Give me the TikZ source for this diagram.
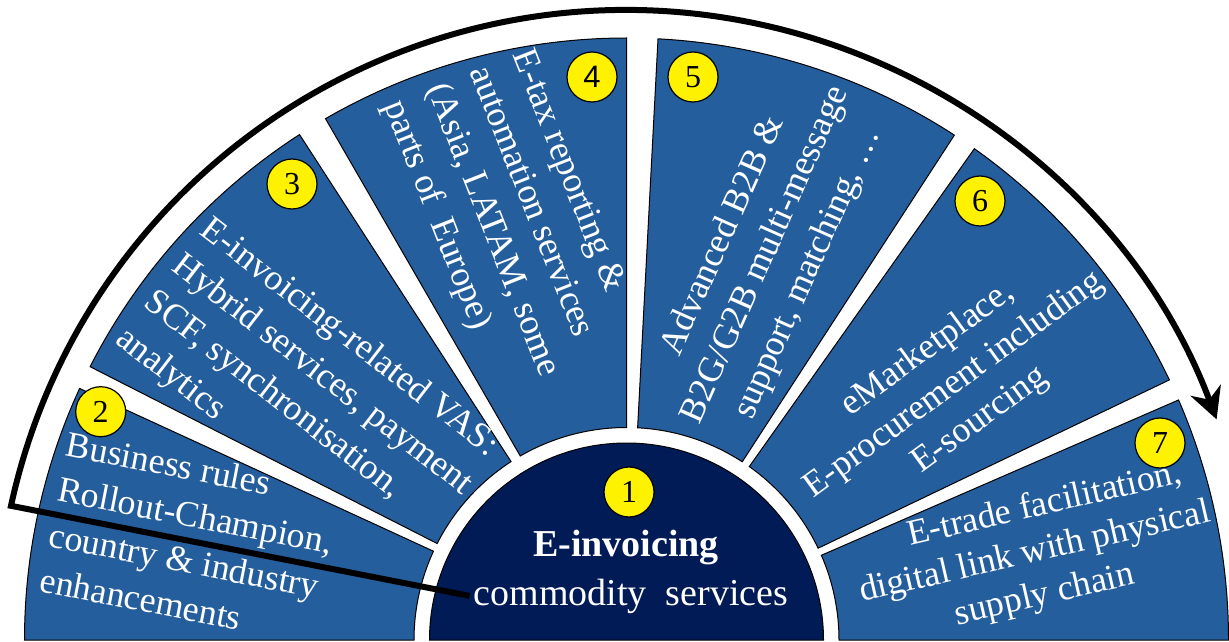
\documentclass[tikz,border=0pt]{standalone}
\usepackage{fontspec}
\setmainfont{Liberation Serif}
\newfontfamily\numsans{Liberation Sans}
\usetikzlibrary{arrows.meta,calc}
\definecolor{wedgeblue}{RGB}{36,94,157}
\definecolor{discnavy}{RGB}{1,27,87}
\tikzset{
  wedgeshape/.style={fill=wedgeblue, draw=black, line width=1pt},
  discshape/.style={fill=discnavy, draw=black, line width=1pt},
  numdot/.style={circle, fill=yellow, draw=black, line width=1.2pt, minimum size=50pt, inner sep=0pt, font=\fontsize{32}{32}\selectfont},
  wtext/.style={text=white, font=\fontsize{36}{46}\selectfont, inner sep=0pt},
  wtextb/.style={text=white, font=\fontsize{36}{44}\selectfont, inner sep=0pt},
  ctext/.style={text=white, inner sep=0pt, anchor=base},
  flow/.style={line width=6pt, -{Stealth[length=31pt,width=32pt,inset=10pt]}},
}
\newcommand\mywedge[2]{%
  \draw[wedgeshape] ([shift={(O)}]#1:212.5pt) -- ([shift={(O)}]#1:602pt)
    arc[start angle=#1, end angle=#2, radius=602pt]
    -- ([shift={(O)}]#2:212.5pt)
    arc[start angle=#2, end angle=#1, radius=212.5pt] -- cycle;}
\begin{document}
\begin{tikzpicture}[x=1pt,y=1pt]
\useasboundingbox (0,0) rectangle (1229,641);
\coordinate (O) at (626.5,1);
% wedges
\mywedge{155.3}{180}
\mywedge{122.9}{153}
\mywedge{90}{120}
\mywedge{57}{87}
\mywedge{25.6}{54.7}
\mywedge{0}{23.5}
% central disc
\draw[discshape] ([shift={(O)}]0:197pt) arc[start angle=0, end angle=180, radius=197pt] -- cycle;
% number dots
\node[numdot] (n1) at (629,149) {1};
\node[numdot] (n2) at (100.7,229.3) {2};
\node[numdot] (n3) at (292,457) {3};
\node[numdot, font=\numsans\fontsize{31}{31}\selectfont] (n4) at (592,564) {4};
\node[numdot] (n5) at (693,564) {5};
\node[numdot] (n6) at (980,440) {6};
\node[numdot] (n7) at (1160,198) {7};
% wedge texts
\node[wtext, align=left, rotate=-11] (t2) at (191,103)
  {Business rules\\Rollout-Champion,\\country \& industry\\enhancements};
\node[wtext, align=left, rotate=-37.7] (t3) at (307.6,247.3)
  {E-invoicing-related VAS:\\Hybrid services, payment\\SCF, synchronisation,\\analytics};
\node[wtext, align=left, rotate=-68.5] (t4) at (513,419)
  {E-tax reporting \&\\automation services\\(Asia, LATAM, some\\parts of\ \ Europe)};
\node[wtext, align=center, rotate=66] (t5) at (766,386)
  {Advanced B2B \&\\B2G/G2B multi-message\\support, matching, …};
\node[wtextb, align=center, rotate=36] (t6) at (954,256)
  {eMarketplace,\\E-procurement including\\E-sourcing};
\node[wtextb, align=center, rotate=13] (t7) at (1035,88)
  {\hspace*{40pt}E-trade facilitation,\\digital link with physical\\supply chain};
% central texts
\node[ctext, font=\bfseries\fontsize{38}{38}\selectfont] (c1) at (626,84.3) {E-invoicing};
\node[ctext, font=\fontsize{38}{38}\selectfont] (cs) at (631,36) {commodity\ \ services};
% flow arrow
\coordinate (as) at ([shift={(O)}]167.7:630pt);
\draw[flow] ([xshift=-4pt]cs.west) -- (as) arc[start angle=167.7, end angle=20.5, radius=630pt];
\end{tikzpicture}
\end{document}
